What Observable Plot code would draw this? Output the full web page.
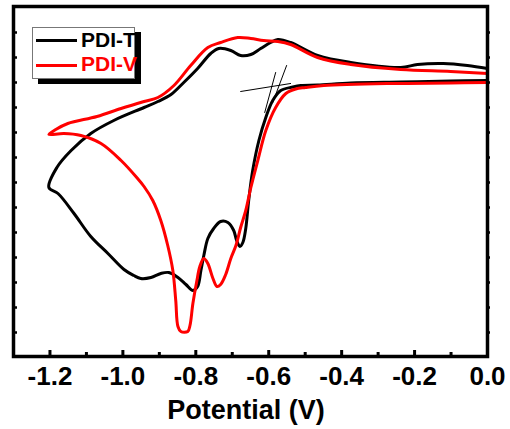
<!DOCTYPE html>
<html><head><meta charset="utf-8">
<script src="https://cdn.jsdelivr.net/npm/d3@7"></script>
<script src="https://cdn.jsdelivr.net/npm/@observablehq/plot@0.6"></script>
<style>
html,body{margin:0;padding:0;background:#fff;}
#wrap{position:relative;width:510px;height:429px;font-family:"Liberation Sans",Arial,sans-serif;}
#legend{position:absolute;left:32px;top:27px;width:101px;height:50px;border:1px solid #777;background:#fff;box-shadow:6px 5px 0 #000;}
.sw{position:absolute;left:3px;width:41px;height:3px;}
.lb{position:absolute;left:48px;font-weight:bold;font-size:21px;line-height:1;white-space:nowrap;}
</style></head>
<body>
<div id="wrap"></div>
<script>
// PDI-T (black) cyclic voltammogram
const tPotential = [0, -0.101, -0.238, -0.375, -0.466, -0.512, -0.534, -0.567, -0.589, -0.608, -0.627, -0.644, -0.655, -0.663, -0.671, -0.679, -0.688, -0.696, -0.712, -0.732, -0.751, -0.767, -0.778, -0.786, -0.795, -0.808, -0.827, -0.849, -0.874, -0.896, -0.923, -0.951, -0.970, -0.997, -1.041, -1.088, -1.134, -1.178, -1.203, -1.181, -1.142, -1.088, -1.025, -0.942, -0.904, -0.868, -0.833, -0.795, -0.759, -0.737, -0.704, -0.677, -0.649, -0.622, -0.595, -0.575, -0.540, -0.466, -0.375, -0.238, -0.192, -0.121, -0.055, 0];
const tCurrent = [10.08, 10.06, 10.02, 9.98, 9.90, 9.88, 9.82, 9.68, 9.28, 8.60, 7.68, 6.48, 5.28, 4.16, 3.60, 3.44, 3.68, 4.08, 4.40, 4.44, 4.16, 3.76, 3.08, 2.48, 1.84, 1.68, 1.92, 2.20, 2.40, 2.36, 2.20, 2.16, 2.28, 2.52, 3.16, 3.84, 4.76, 5.56, 5.80, 6.60, 7.28, 7.96, 8.48, 9.00, 9.24, 9.52, 10.00, 10.56, 11.16, 11.36, 11.28, 11.08, 11.12, 11.36, 11.60, 11.72, 11.60, 11.08, 10.80, 10.60, 10.72, 10.76, 10.68, 10.56];
// PDI-V (red) cyclic voltammogram
const vPotential = [0, -0.101, -0.266, -0.449, -0.499, -0.526, -0.553, -0.581, -0.608, -0.630, -0.649, -0.663, -0.677, -0.690, -0.704, -0.718, -0.732, -0.742, -0.753, -0.767, -0.778, -0.789, -0.797, -0.808, -0.816, -0.822, -0.841, -0.849, -0.855, -0.863, -0.877, -0.896, -0.918, -0.942, -0.962, -1.005, -1.060, -1.115, -1.162, -1.203, -1.184, -1.151, -1.071, -1.005, -0.942, -0.904, -0.860, -0.814, -0.767, -0.732, -0.685, -0.649, -0.614, -0.575, -0.540, -0.466, -0.375, -0.238, -0.101, 0];
const vCurrent = [10.00, 9.98, 9.96, 9.88, 9.80, 9.74, 9.56, 9.00, 8.08, 6.88, 5.80, 4.88, 4.20, 3.48, 2.96, 2.32, 1.92, 1.84, 2.16, 2.76, 2.96, 2.64, 2.08, 1.16, 0.28, 0.04, 0.04, 0.24, 1.28, 2.48, 3.48, 4.48, 5.28, 5.84, 6.20, 6.88, 7.56, 7.88, 7.96, 7.92, 8.12, 8.36, 8.64, 8.96, 9.24, 9.40, 9.88, 10.68, 11.40, 11.60, 11.80, 11.76, 11.68, 11.64, 11.52, 11.00, 10.72, 10.52, 10.44, 10.36];
// onset tangent construction lines
const baseLineX = [-0.677, -0.540], baseLineY = [9.64, 9.96];
const tangentAX = [-0.581, -0.611], tangentAY = [10.40, 8.80];
const tangentBX = [-0.551, -0.589], tangentBY = [10.68, 9.20];
// axes
const xMajorTicks = [-1.2, -1.0, -0.8, -0.6, -0.4, -0.2, 0.0];
const xMinorTicks = [-1.1, -0.9, -0.7, -0.5, -0.3, -0.1];
const yTicks = [0,1,2,3,4,5,6,7,8,9,10,11,12];
const seriesNames = ["PDI-T", "PDI-V"];
const seriesColors = ["#000000", "#ff0000"];
const xLabel = "Potential (V)";

const zip = (xs, ys) => xs.map((x, i) => ({x, y: ys[i]}));
const tData = zip(tPotential, tCurrent);
const vData = zip(vPotential, vCurrent);

const W = 510, H = 429, mT = 6, mL = 13, mR = 23, mB = 73;
const pw = W - mL - mR, ph = H - mT - mB;

const plot = Plot.plot({
  width: W, height: H,
  marginTop: mT, marginLeft: mL, marginRight: mR, marginBottom: mB,
  style: {fontFamily: "'Liberation Sans', Arial, sans-serif", fontWeight: "bold", background: "white", color: "black"},
  x: {domain: [-1.3, 0], axis: null},
  y: {domain: [-0.96, 13.04], axis: null},
  marks: [
    Plot.axisX(xMajorTicks, {tickSize: 0, tickPadding: 10, tickFormat: d => d.toFixed(1), fontSize: 26, label: null}),
    Plot.tickX(xMajorTicks, {x: d => d, insetTop: ph - 6, strokeWidth: 3}),
    Plot.tickX(xMinorTicks, {x: d => d, insetTop: ph - 4, strokeWidth: 3}),
    Plot.tickY(yTicks, {y: d => d, insetRight: pw - 4, strokeWidth: 2.5}),
    Plot.tickY(yTicks, {y: d => d, insetLeft: pw, insetRight: -3, strokeWidth: 2.5}),
    Plot.line(zip(baseLineX, baseLineY), {x: "x", y: "y", stroke: "black", strokeWidth: 1}),
    Plot.line(zip(tangentAX, tangentAY), {x: "x", y: "y", stroke: "black", strokeWidth: 1}),
    Plot.line(zip(tangentBX, tangentBY), {x: "x", y: "y", stroke: "black", strokeWidth: 1}),
    Plot.line(tData, {x: "x", y: "y", stroke: seriesColors[0], strokeWidth: 3, curve: "catmull-rom"}),
    Plot.line(vData, {x: "x", y: "y", stroke: seriesColors[1], strokeWidth: 3, curve: "catmull-rom"}),
    Plot.frame({stroke: "black", strokeWidth: 3.5}),
    Plot.text([xLabel], {text: d => d, frameAnchor: "bottom", lineAnchor: "bottom", dy: 62, dx: -4.5, fontSize: 27, fill: "black"})
  ]
});
const wrap = document.getElementById("wrap");
wrap.appendChild(plot);

const legend = document.createElement("div");
legend.id = "legend";
const lineTops = [10.5, 35.5], textTops = [1.2, 25.2];
seriesNames.forEach((name, i) => {
  const sw = document.createElement("div");
  sw.className = "sw"; sw.style.top = lineTops[i] + "px"; sw.style.background = seriesColors[i];
  const lb = document.createElement("div");
  lb.className = "lb"; lb.style.top = textTops[i] + "px"; lb.style.color = seriesColors[i];
  lb.textContent = name;
  legend.appendChild(sw); legend.appendChild(lb);
});
wrap.appendChild(legend);
</script>
</body></html>
